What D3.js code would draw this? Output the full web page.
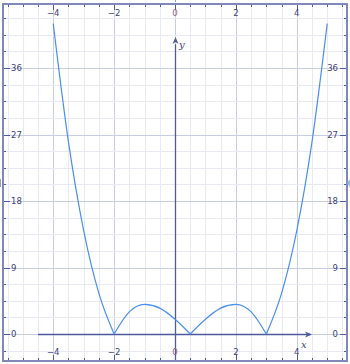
<!DOCTYPE html>
<html>
<head>
<meta charset="utf-8">
<script src="https://cdn.jsdelivr.net/npm/d3@7"></script>
<style>
  html, body { margin: 0; padding: 0; background: #fff; }
  svg { display: block; }
</style>
</head>
<body>
<div class="chart"></div>
<script>
// data
const xTicks = [-4, -2, 0, 2, 4]
const yTicks = [0, 9, 18, 27, 36]
const curveX = [-4, -3.5, -3, -2.5, -2, -1.5, -1, -0.5, 0, 0.5, 1, 1.5, 2, 2.5, 3, 3.5, 4, 4.5, 5]
const curveY = [42, 26, 14, 5.5, 0, 3, 4, 3.5, 2, 0, 2, 3.5, 4, 3, 0, 5.5, 14, 26, 42]

let width = 350
let height = 364
let padL = 3, padR = 347, padT = 4, padB = 361

let svg = d3.select(".chart")
    .append("svg")
    .attr("width", width)
    .attr("height", height)

let x = d3.scaleLinear().domain([-5.65, 5.65]).range([padL, padR])
let y = d3.scaleLinear().domain([-3.65, 44.66]).range([padB, padT])

let axisColor = "#4d5a9c"
let textColor = "#3b3f7a"

// grid: minor every 0.5 on x, every 2.25 on y
let xGrid = d3.range(-11, 12).map(d => d / 2)
let yGrid = d3.range(-1, 20).map(d => d * 2.25)
let isMajorY = d => yTicks.includes(Math.round(d * 100) / 100)
let gridG = svg.append("g")
gridG.selectAll(".vx")
    .data(xGrid)
    .enter()
    .append("line")
    .attr("x1", d => Math.round(x(d)) + 0.5)
    .attr("x2", d => Math.round(x(d)) + 0.5)
    .attr("y1", padT)
    .attr("y2", padB)
    .attr("stroke", d => xTicks.includes(d) ? "#c9cde2" : "#e8e9f3")
    .attr("stroke-width", 1)
gridG.selectAll(".hy")
    .data(yGrid)
    .enter()
    .append("line")
    .attr("x1", padL)
    .attr("x2", padR)
    .attr("y1", d => Math.round(y(d)) + 0.5)
    .attr("y2", d => Math.round(y(d)) + 0.5)
    .attr("stroke", d => isMajorY(d) ? "#c9cde2" : "#e8e9f3")
    .attr("stroke-width", 1)

// frame ticks
let tickG = svg.append("g").attr("stroke", axisColor).attr("stroke-width", 1)
xGrid.forEach(d => {
    let px = Math.round(x(d)) + 0.5
    let len = xTicks.includes(d) ? 6 : 3
    tickG.append("line").attr("x1", px).attr("x2", px).attr("y1", padT).attr("y2", padT + len)
    tickG.append("line").attr("x1", px).attr("x2", px).attr("y1", padB).attr("y2", padB - len)
})
yGrid.forEach(d => {
    let py = Math.round(y(d)) + 0.5
    let len = isMajorY(d) ? 7 : 3
    tickG.append("line").attr("x1", padL).attr("x2", padL + len).attr("y1", py).attr("y2", py)
    tickG.append("line").attr("x1", padR).attr("x2", padR - len).attr("y1", py).attr("y2", py)
})

// axes
let axisG = svg.append("g")
axisG.append("line")
    .attr("x1", x(-4.5)).attr("x2", x(4.45))
    .attr("y1", Math.round(y(0)) + 0.5).attr("y2", Math.round(y(0)) + 0.5)
    .attr("stroke", axisColor).attr("stroke-width", 1.3)
axisG.append("line")
    .attr("x1", Math.round(x(0)) + 0.5).attr("x2", Math.round(x(0)) + 0.5)
    .attr("y1", padB).attr("y2", y(39.2))
    .attr("stroke", axisColor).attr("stroke-width", 1.3)
// arrow heads
let ax = x(4.5), ay = Math.round(y(0)) + 0.5
axisG.append("path")
    .attr("d", `M${ax},${ay} L${ax - 7},${ay - 3} L${ax - 5},${ay} L${ax - 7},${ay + 3} Z`)
    .attr("fill", axisColor)
let bx = Math.round(x(0)) + 0.5, by = y(40.2)
axisG.append("path")
    .attr("d", `M${bx},${by} L${bx - 3},${by + 7} L${bx},${by + 5} L${bx + 3},${by + 7} Z`)
    .attr("fill", axisColor)

// frame
svg.append("rect")
    .attr("x", padL).attr("y", padT)
    .attr("width", padR - padL).attr("height", padB - padT)
    .attr("fill", "none")
    .attr("stroke", "#8088bb")
    .attr("stroke-width", 2)

// tick labels
let labelG = svg.append("g")
    .attr("font-family", "DejaVu Sans, Verdana, sans-serif")
    .attr("font-size", 8.5)
    .attr("fill", textColor)
let fmt = d => d < 0 ? "\u2212" + Math.abs(d) : String(d)
labelG.selectAll(".tx")
    .data(xTicks)
    .enter()
    .append("text")
    .attr("x", d => x(d))
    .attr("y", 16)
    .attr("text-anchor", "middle")
    .attr("fill", d => d == 0 ? "#9a5a86" : textColor)
    .text(fmt)
labelG.selectAll(".bx")
    .data(xTicks)
    .enter()
    .append("text")
    .attr("x", d => x(d))
    .attr("y", 355)
    .attr("text-anchor", "middle")
    .attr("fill", d => d == 0 ? "#9a5a86" : textColor)
    .text(fmt)
labelG.selectAll(".ly")
    .data(yTicks)
    .enter()
    .append("text")
    .attr("x", 11)
    .attr("y", d => y(d) + 3)
    .text(d => d)
labelG.selectAll(".ry")
    .data(yTicks)
    .enter()
    .append("text")
    .attr("x", 338)
    .attr("y", d => y(d) + 3)
    .attr("text-anchor", "end")
    .text(d => d)

// axis names
svg.append("text")
    .attr("x", 301).attr("y", 348)
    .attr("font-family", "DejaVu Serif, serif")
    .attr("font-style", "italic")
    .attr("font-size", 10)
    .attr("fill", textColor)
    .text("x")
svg.append("text")
    .attr("x", 179).attr("y", 48)
    .attr("font-family", "DejaVu Serif, serif")
    .attr("font-style", "italic")
    .attr("font-size", 10)
    .attr("fill", textColor)
    .text("y")

// curve, split at the zeros so the corners stay sharp
let pts = curveX.map((d, i) => [d, curveY[i]])
let segments = []
let cur = []
pts.forEach((p, i) => {
    cur.push(p)
    if (p[1] == 0 && i > 0 && i < pts.length - 1) {
        segments.push(cur)
        cur = [p]
    }
})
segments.push(cur)
let line = d3.line()
    .x(d => x(d[0]))
    .y(d => y(d[1]))
    .curve(d3.curveMonotoneX)
svg.append("g")
    .selectAll("path")
    .data(segments)
    .enter()
    .append("path")
    .attr("d", line)
    .attr("fill", "none")
    .attr("stroke", "#4a8ff0")
    .attr("stroke-width", 1.2)

// small clipped marks at the edges
svg.append("path")
    .attr("d", "M350,179 L347,183 L350,187 Z")
    .attr("fill", "#8fb8e8")
svg.append("line")
    .attr("x1", 0.5).attr("x2", 0.5).attr("y1", 179).attr("y2", 187)
    .attr("stroke", "#9aa0c0")
svg.append("line")
    .attr("x1", 175.5).attr("x2", 175.5).attr("y1", 0).attr("y2", 2)
    .attr("stroke", "#8aa0d0")
</script>
</body>
</html>
